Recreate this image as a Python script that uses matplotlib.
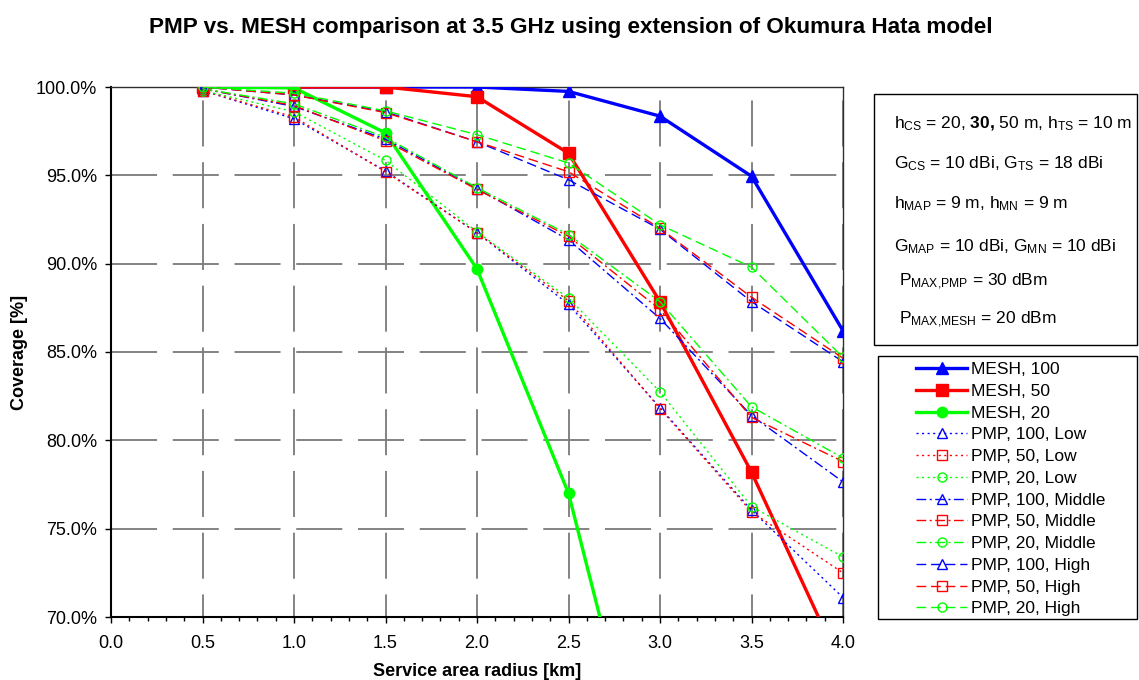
import numpy as np
import matplotlib
matplotlib.use("Agg")
import matplotlib.pyplot as plt
from matplotlib.patches import Rectangle
from matplotlib.ticker import MultipleLocator, FuncFormatter

plt.rcParams['font.family'] = ['Liberation Sans', 'DejaVu Sans']
plt.rcParams['mathtext.fontset'] = 'custom'
plt.rcParams['mathtext.rm'] = 'Liberation Sans'
plt.rcParams['mathtext.it'] = 'Liberation Sans:italic'
plt.rcParams['mathtext.bf'] = 'Liberation Sans:bold'

# ---------------- data ----------------
radius = [0.5, 1.0, 1.5, 2.0, 2.5, 3.0, 3.5, 4.0]
mesh_100 = [100.0, 100.0, 100.0, 100.0, 99.75, 98.35, 94.95, 86.2]
mesh_50 = [100.0, 100.0, 100.0, 99.45, 96.25, 87.85, 78.2, 67.0]
mesh_20 = [100.0, 99.95, 97.4, 89.7, 77.0, 56.6, np.nan, np.nan]
pmp_100_low = [99.8, 98.2, 95.25, 91.75, 87.7, 81.85, 76.05, 71.1]
pmp_50_low = [99.8, 98.3, 95.2, 91.75, 87.9, 81.8, 75.95, 72.5]
pmp_20_low = [99.8, 98.6, 95.85, 91.8, 88.05, 82.75, 76.25, 73.4]
pmp_100_mid = [99.9, 98.9, 97.05, 94.25, 91.35, 86.9, 81.4, 77.65]
pmp_50_mid = [99.9, 98.95, 96.95, 94.2, 91.55, 87.4, 81.3, 78.8]
pmp_20_mid = [99.9, 99.05, 97.15, 94.3, 91.65, 87.85, 81.9, 79.0]
pmp_100_high = [100.0, 99.55, 98.6, 96.9, 94.75, 91.95, 87.85, 84.45]
pmp_50_high = [100.0, 99.55, 98.55, 96.9, 95.2, 92.0, 88.1, 84.65]
pmp_20_high = [100.0, 99.65, 98.65, 97.3, 95.7, 92.2, 89.8, 84.7]

labels = ["MESH, 100", "MESH, 50", "MESH, 20",
          "PMP, 100, Low", "PMP, 50, Low", "PMP, 20, Low",
          "PMP, 100, Middle", "PMP, 50, Middle", "PMP, 20, Middle",
          "PMP, 100, High", "PMP, 50, High", "PMP, 20, High"]
series = [mesh_100, mesh_50, mesh_20,
          pmp_100_low, pmp_50_low, pmp_20_low,
          pmp_100_mid, pmp_50_mid, pmp_20_mid,
          pmp_100_high, pmp_50_high, pmp_20_high]

title = "PMP vs. MESH comparison at 3.5 GHz using extension of Okumura Hata model"

# ---------------- figure ----------------
W, H = 1139, 680
fig = plt.figure(figsize=(W / 100, H / 100), dpi=100)
x0, x1, y0, y1 = 111, 843, 87, 617
ax = fig.add_axes([x0 / W, 1 - y1 / H, (x1 - x0) / W, (y1 - y0) / H])

colors = ['#0000FF', '#FF0000', '#00FF00']
mk = ['^', 's', 'o']
mesh_ms = [9, 8, 7.5]
pmp_ms = [7, 7, 6.5]
styles = [(0, (1.5, 2.5)), (0, (7, 2.5, 1.5, 2.5)), (0, (7, 3.5))]

lines = []
for i, (lab, s) in enumerate(zip(labels, series)):
    if i < 3:
        c = colors[i]
        ln, = ax.plot(radius, s, color=c, lw=2.4, marker=mk[i], ms=mesh_ms[i],
                      mfc=c, mec=c, label=lab, zorder=3)
    else:
        j = (i - 3) % 3
        g = (i - 3) // 3
        c = colors[j]
        ln, = ax.plot(radius, s, color=c, lw=1.0, linestyle=styles[g], marker=mk[j],
                      ms=pmp_ms[j], mfc='none', mec=c, mew=1.0, label=lab, zorder=3)
    lines.append(ln)

ax.set_xlim(0, 4.0)
ax.set_ylim(70, 100)
ax.xaxis.set_major_locator(MultipleLocator(0.5))
ax.xaxis.set_minor_locator(MultipleLocator(0.1))
ax.yaxis.set_major_locator(MultipleLocator(5))
ax.xaxis.set_major_formatter(FuncFormatter(lambda v, p: f"{v:.1f}"))
ax.yaxis.set_major_formatter(FuncFormatter(lambda v, p: f"{v:.1f}%"))
ax.tick_params(axis='both', labelsize=13, direction='out', length=4, width=1, colors='black')
ax.tick_params(axis='x', which='minor', direction='out', length=3, width=1)
ax.tick_params(axis='x', pad=9)
ax.tick_params(axis='y', pad=6)

# dashed gray grid
for yv in [75, 80, 85, 90, 95, 100]:
    ax.axhline(yv, color='#7a7a7a', lw=1.3, linestyle=(0, (25.5, 8.7)), zorder=1)
for xv in [0.5, 1.0, 1.5, 2.0, 2.5, 3.0, 3.5, 4.0]:
    ax.axvline(xv, color='#7a7a7a', lw=1.3, linestyle=(13, (25.5, 8.7)), zorder=1)

for sp in ['left', 'bottom']:
    ax.spines[sp].set_linewidth(1.5)
for sp in ['top', 'right']:
    ax.spines[sp].set_linewidth(1.0)
    ax.spines[sp].set_color('#303030')

ax.set_xlabel("Service area radius [km]", fontsize=13, fontweight='bold')
ax.set_ylabel("Coverage [%]", fontsize=13, fontweight='bold')
ax.xaxis.set_label_coords(0.5, (y1 - 663) / (y1 - y0), transform=ax.transAxes)
ax.yaxis.set_label_coords((28 - x0) / (x1 - x0), 0.5)

fig.text(571 / W, 1 - 27 / H, title, ha='center', va='center', fontsize=16.2, fontweight='bold')

# parameter box
fig.add_artist(Rectangle((874 / W, 1 - 345 / H), (1137 - 874) / W, (345 - 94) / H,
                         transform=fig.transFigure, fill=False, ec='black', lw=1.0))
box_lines = [
    (894, 128, r"h$_{\mathrm{CS}}$ = 20, $\mathbf{30}$$\mathbf{{,}}$ 50 m, h$_{\mathrm{TS}}$ = 10 m"),
    (894, 168, r"G$_{\mathrm{CS}}$ = 10 dBi, G$_{\mathrm{TS}}$ = 18 dBi"),
    (894, 208, r"h$_{\mathrm{MAP}}$ = 9 m, h$_{\mathrm{MN}}$ = 9 m"),
    (894, 251, r"G$_{\mathrm{MAP}}$ = 10 dBi, G$_{\mathrm{MN}}$ = 10 dBi"),
    (899, 286, r"P$_{\mathrm{MAX{,}PMP}}$ = 30 dBm"),
    (899, 324, r"P$_{\mathrm{MAX{,}MESH}}$ = 20 dBm"),
]
for bx, by, t in box_lines:
    fig.text(bx / W, 1 - by / H, t, ha='left', va='baseline', fontsize=12.5)

# legend box
fig.add_artist(Rectangle((878 / W, 1 - 619 / H), (1137 - 878) / W, (619 - 356) / H,
                         transform=fig.transFigure, fill=False, ec='black', lw=1.0))
leg = fig.legend(handles=lines, labels=labels, loc='upper left',
                 bbox_to_anchor=(916 / W, 1 - 362 / H), frameon=False, fontsize=12.5,
                 handlelength=2.95, handletextpad=0.2, labelspacing=0.38,
                 borderpad=0, borderaxespad=0, numpoints=1)

fig.savefig("out.png", dpi=100)
